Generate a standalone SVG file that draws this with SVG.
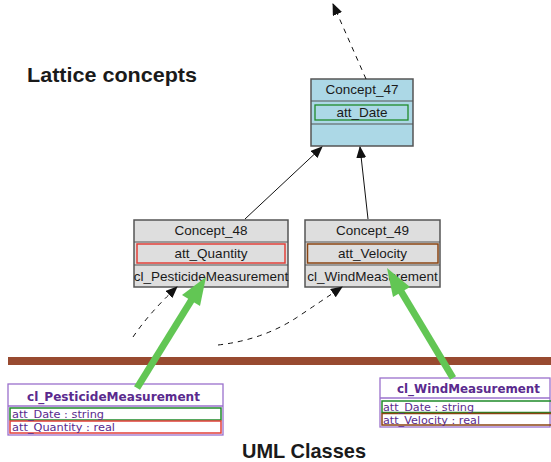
<svg xmlns="http://www.w3.org/2000/svg" width="551" height="462" viewBox="0 0 551 462">
  <defs>
    <marker id="head" markerUnits="userSpaceOnUse" markerWidth="12" markerHeight="10" viewBox="0 0 12 10" refX="11" refY="5" orient="auto">
      <path d="M0,0 L12,5 L0,10 Z" fill="#111"/>
    </marker>
    <style>
      .title { font-family: "Liberation Sans", Arial, sans-serif; font-weight: bold; font-size: 21px; fill: #1a1a1a; }
      .lbl { font-family: "Liberation Sans", Arial, sans-serif; font-size: 13.5px; fill: #1a1a1a; text-anchor: middle; }
      .concept { fill: #dedede; stroke: #555; stroke-width: 1.5; }
      .top { fill: #acd8e6; }
      .sep { stroke: #555; stroke-width: 1.2; }
      .edge { fill: none; stroke: #111; stroke-width: 1; marker-end: url(#head); }
      .dash { stroke-dasharray: 5 5; }
      .green { stroke: #62c654; stroke-width: 7; fill: none; }
      .ghead { fill: #62c654; }
      .uml { fill: #fff; stroke: #9a70cc; stroke-width: 1.3; }
      .cname { font-family: "DejaVu Sans", Verdana, sans-serif; font-weight: bold; font-size: 12.5px; fill: #5a2a8e; }
      .attr { font-family: "DejaVu Sans", Verdana, sans-serif; font-size: 10px; fill: #5a2a8e; }
    </style>
  </defs>

  <!-- section titles -->
  <text class="title" x="27" y="82" textLength="170" lengthAdjust="spacingAndGlyphs">Lattice concepts</text>
  <text class="title" x="242" y="458" textLength="124" lengthAdjust="spacingAndGlyphs">UML Classes</text>

  <!-- divider between the two levels -->
  <rect x="8" y="357" width="543" height="8" fill="#984a30"/>

  <!-- lattice nodes -->
  <g id="concept47">
    <rect class="concept top" x="311" y="79" width="102" height="67"/>
    <line class="sep" x1="311" y1="101" x2="413" y2="101"/>
    <line class="sep" x1="311" y1="124" x2="413" y2="124"/>
    <rect x="315" y="105" width="93" height="15" fill="none" stroke="#1f8a2a" stroke-width="1.3"/>
    <text class="lbl" x="362" y="94">Concept_47</text>
    <text class="lbl" x="362" y="117">att_Date</text>
  </g>

  <g id="concept48">
    <rect class="concept" x="134" y="220" width="154" height="67"/>
    <line class="sep" x1="134" y1="242" x2="288" y2="242"/>
    <line class="sep" x1="134" y1="265" x2="288" y2="265"/>
    <rect x="137" y="244" width="148" height="19" fill="none" stroke="#e2403a" stroke-width="1.5"/>
    <text class="lbl" x="211" y="235">Concept_48</text>
    <text class="lbl" x="211" y="258">att_Quantity</text>
    <text class="lbl" x="211" y="281">cl_PesticideMeasurement</text>
  </g>

  <g id="concept49">
    <rect class="concept" x="305" y="220" width="135" height="67"/>
    <line class="sep" x1="305" y1="242" x2="440" y2="242"/>
    <line class="sep" x1="305" y1="265" x2="440" y2="265"/>
    <rect x="307.5" y="244" width="130.5" height="19" fill="none" stroke="#8b4513" stroke-width="1.5"/>
    <text class="lbl" x="372.5" y="235">Concept_49</text>
    <text class="lbl" x="372.5" y="258">att_Velocity</text>
    <text class="lbl" x="372.5" y="281">cl_WindMeasurement</text>
  </g>

  <!-- UML classes -->
  <g id="pesticide">
    <rect class="uml" x="8" y="384" width="215" height="51"/>
    <line x1="8" y1="406" x2="223" y2="406" stroke="#9a70cc" stroke-width="1.3"/>
    <rect x="10" y="408" width="211" height="12" fill="none" stroke="#1f8a2a" stroke-width="1.5"/>
    <rect x="10" y="421" width="211" height="12" fill="none" stroke="#e2403a" stroke-width="1.5"/>
    <text class="cname" x="27" y="401" textLength="173" lengthAdjust="spacingAndGlyphs">cl_PesticideMeasurement</text>
    <text class="attr" x="12" y="418" textLength="92" lengthAdjust="spacingAndGlyphs">att_Date : string</text>
    <text class="attr" x="12" y="431" textLength="103" lengthAdjust="spacingAndGlyphs">att_Quantity : real</text>
  </g>

  <g id="wind">
    <rect class="uml" x="380" y="378" width="170" height="49"/>
    <line x1="380" y1="398" x2="550" y2="398" stroke="#9a70cc" stroke-width="1.3"/>
    <rect x="382" y="401" width="172" height="11.5" fill="none" stroke="#1f8a2a" stroke-width="1.5"/>
    <rect x="382" y="413.5" width="172" height="11.5" fill="none" stroke="#8b4513" stroke-width="1.5"/>
    <text class="cname" x="397" y="393" textLength="143" lengthAdjust="spacingAndGlyphs">cl_WindMeasurement</text>
    <text class="attr" x="383" y="411" textLength="91" lengthAdjust="spacingAndGlyphs">att_Date : string</text>
    <text class="attr" x="383" y="423.5" textLength="97" lengthAdjust="spacingAndGlyphs">att_Velocity : real</text>
  </g>

  <!-- connectors -->
  <g id="connectors">
    <path class="edge dash" d="M366,79 L333,4"/>
    <path class="edge" d="M245,219 L322,147"/>
    <path class="edge" d="M368,219 L360,147"/>
    <path class="edge dash" d="M133,337 Q150,312 177,287"/>
    <path class="edge dash" d="M218,345 Q262,340 296,318 Q320,302 342,287"/>
    <!-- mapping arrows -->
    <line class="green" x1="137" y1="388" x2="194" y2="296"/>
    <polygon class="ghead" points="206,277 200,306 182,295"/>
    <line class="green" x1="453" y1="378" x2="399" y2="288"/>
    <polygon class="ghead" points="387,268 410,287 393,297"/>
  </g>
</svg>
